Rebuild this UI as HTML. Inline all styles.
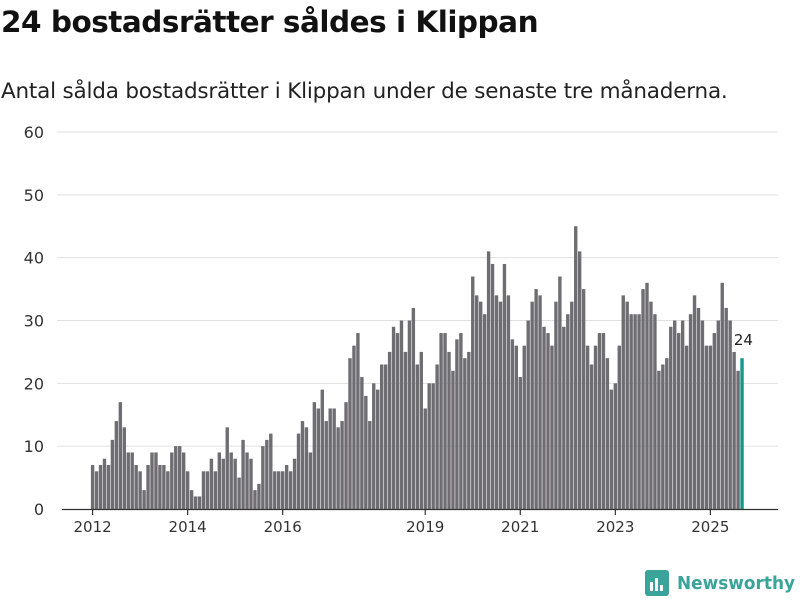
<!DOCTYPE html>
<html><head><meta charset="utf-8"><style>
body{margin:0;width:800px;height:600px;background:#fff;font-family:"Liberation Sans","DejaVu Sans",sans-serif;overflow:hidden;position:relative}
h1{position:absolute;left:1px;top:5px;margin:0;font-size:29.5px;font-weight:bold;color:#111;font-family:"DejaVu Sans","Liberation Sans",sans-serif;letter-spacing:-0.5px}
.sub{position:absolute;left:1px;top:79px;font-size:21.5px;color:#222;font-family:"DejaVu Sans","Liberation Sans",sans-serif;letter-spacing:-0.2px;white-space:nowrap}
svg{position:absolute;left:0;top:0}
</style></head><body>
<h1>24 bostadsrätter såldes i Klippan</h1>
<div class="sub">Antal sålda bostadsrätter i Klippan under de senaste tre månaderna.</div>
<svg id="chart" width="800" height="600"></svg>
<script>
const values = [
7,6,7,8,7,11,14,17,13,9,9,7,
6,3,7,9,9,7,7,6,9,10,10,9,
6,3,2,2,6,6,8,6,9,8,13,9,
8,5,11,9,8,3,4,10,11,12,6,6,
6,7,6,8,12,14,13,9,17,16,19,14,
16,16,13,14,17,24,26,28,21,18,14,20,
19,23,23,25,29,28,30,25,30,32,23,25,
16,20,20,23,28,28,25,22,27,28,24,25,
37,34,33,31,41,39,34,33,39,34,27,26,
21,26,30,33,35,34,29,28,26,33,37,29,
31,33,45,41,35,26,23,26,28,28,24,19,
20,26,34,33,31,31,31,35,36,33,31,22,
23,24,29,30,28,30,26,31,34,32,30,26,
26,28,30,36,32,30,25,22,24];
const yTicks = [0,10,20,30,40,50,60];
const xTickLabels = ["2012","2014","2016","2019","2021","2023","2025"];
const xTickIndex = [0,24,48,84,108,132,156];
const NS="http://www.w3.org/2000/svg";
const svg=document.getElementById('chart');
const y0=509, yTop=132, yMax=60;
const yScale=v=>y0-(v/yMax)*(y0-yTop);
const step=3.96, x0=92;
const xScale=i=>x0+i*step;
function mk(t,a){const e=document.createElementNS(NS,t);for(const k in a)e.setAttribute(k,a[k]);svg.appendChild(e);return e;}
yTicks.forEach(t=>{
  if(t>0){const g=mk('line',{x1:57,x2:778,y1:yScale(t),y2:yScale(t),stroke:'#e0e0e0','stroke-width':1});
  
  }
  const l=mk('text',{x:44,y:yScale(t)+6,'text-anchor':'end','font-size':16,fill:'#333','font-family':'DejaVu Sans, Liberation Sans, sans-serif'});
  l.textContent=t;
  
  
});
values.forEach((v,i)=>{
  const last=i===values.length-1;
  const r=mk('rect',{x:xScale(i)-1.1,y:yScale(v),width:3.4,height:y0-yScale(v),fill:last?'#14988a':'#6e6d72'});
  
  
});
const ax=mk('line',{x1:62,x2:778,y1:y0+0.5,y2:y0+0.5,stroke:'#333','stroke-width':1.2});


xTickLabels.forEach((lab,k)=>{
  const x=xScale(xTickIndex[k])+0.6;
  const tk=mk('line',{x1:x,x2:x,y1:y0,y2:y0+6,stroke:'#333','stroke-width':1.2});
  
  
  const t=mk('text',{x:x,y:y0+23,'text-anchor':'middle','font-size':15,fill:'#333','font-family':'DejaVu Sans, Liberation Sans, sans-serif'});
  t.textContent=lab;
  
  
});
const li=values.length-1;
const vl=mk('text',{x:xScale(li)+2,y:yScale(values[li])-13,'text-anchor':'middle','font-size':15,fill:'#222','font-family':'DejaVu Sans, Liberation Sans, sans-serif'});
vl.textContent=values[li];


</script>
<svg width="160" height="40" style="left:640px;top:565px">
<rect x="5" y="5" width="24" height="26" rx="3" fill="#3aa39a"/>
<rect x="10" y="17" width="3" height="9" fill="#fff"/><rect x="15" y="13" width="3" height="13" fill="#fff"/><rect x="20" y="20" width="3" height="6" fill="#fff"/>
<text x="37" y="24" font-size="18" font-weight="bold" fill="#3aa39a" font-family="DejaVu Sans, Liberation Sans, sans-serif" textLength="118" lengthAdjust="spacingAndGlyphs">Newsworthy</text>
</svg>
</body></html>
